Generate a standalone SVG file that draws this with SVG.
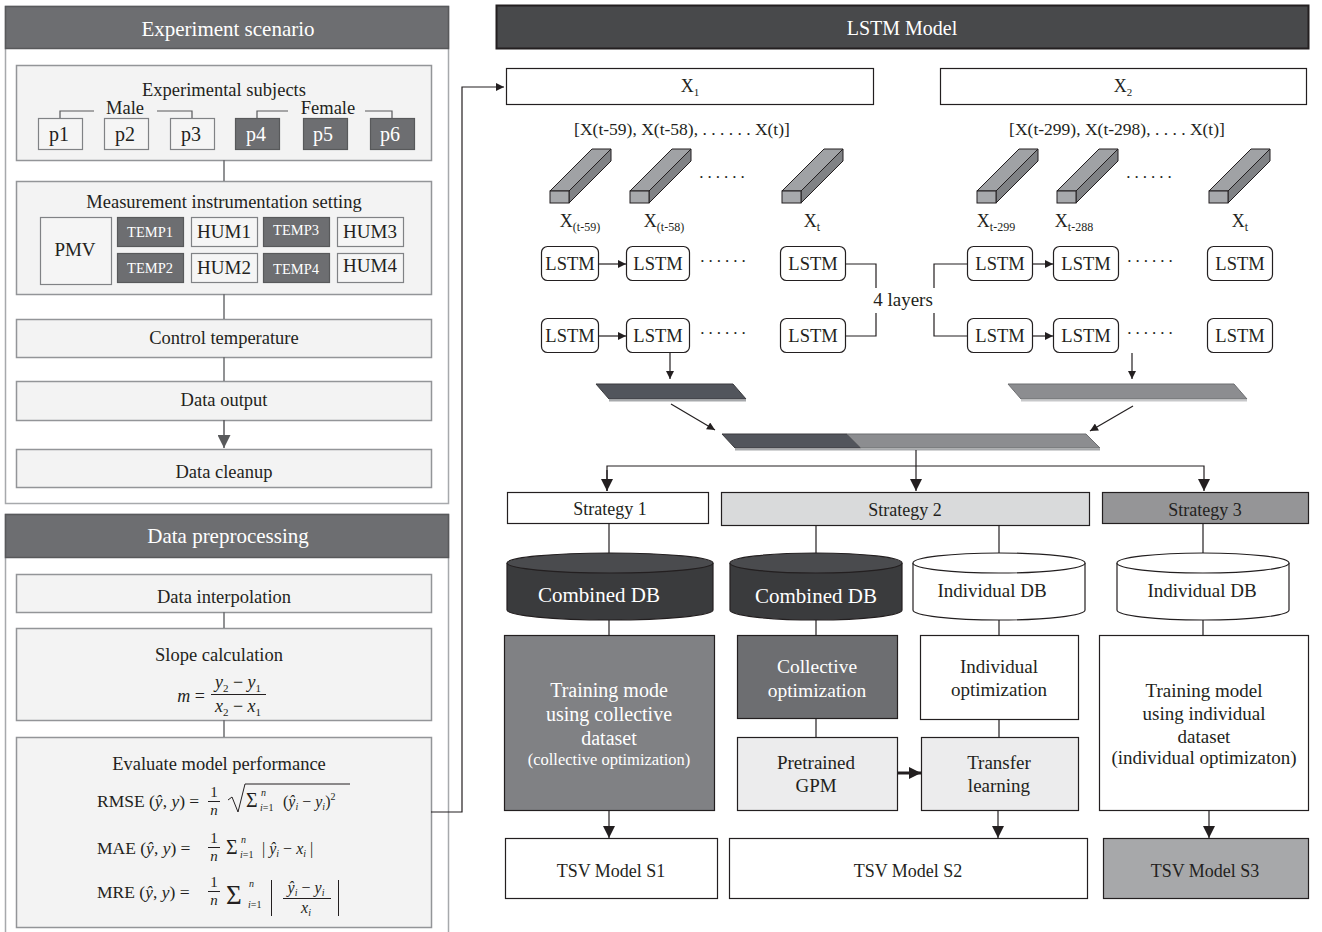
<svg xmlns="http://www.w3.org/2000/svg" width="1322" height="932" viewBox="0 0 1322 932">
<defs>
<style>
text{font-family:"Liberation Serif","Times New Roman",serif;fill:#231f20}
.hd{fill:#fff;font-size:21px;text-anchor:middle}
.t18{font-size:18.5px;text-anchor:middle}
.t17{font-size:18px;text-anchor:middle}
.t19{font-size:19px;text-anchor:middle}
.t16{font-size:17.5px;text-anchor:middle}
.dots{font-size:17px;text-anchor:middle;letter-spacing:4px}
.w{fill:#fff}
.it{font-style:italic}
.panel{fill:#fff;stroke:#a7a9ac;stroke-width:1.5}
.phd{fill:#6d6e71;stroke:#58595b;stroke-width:1.5}
.ibox{fill:#f3f3f3;stroke:#939598;stroke-width:1.5}
.pw{fill:#f5f5f5;stroke:#808285;stroke-width:1.2}
.pd{fill:#6d6e71;stroke:#58595b;stroke-width:1.2}
.gl{stroke:#6d6e71;stroke-width:1.5;fill:none}
.bl{stroke:#231f20;stroke-width:1.2;fill:none}
.box{fill:#fff;stroke:#231f20;stroke-width:1.2}
.lstm{fill:#fff;stroke:#231f20;stroke-width:1.2}
.bf{fill:#a7a9ac;stroke:#231f20;stroke-width:1}
.bt{fill:#a0a2a5;stroke:#231f20;stroke-width:1}
.br{fill:#808285;stroke:#231f20;stroke-width:1}
</style>
<marker id="ah" viewBox="0 0 10 10" refX="10" refY="5" markerWidth="9" markerHeight="8" markerUnits="userSpaceOnUse" orient="auto"><path d="M0,0 L10,5 L0,10 z" fill="#231f20"/></marker>
<marker id="ahL" viewBox="0 0 10 10" refX="10" refY="5" markerWidth="14" markerHeight="12" markerUnits="userSpaceOnUse" orient="auto"><path d="M0,0 L10,5 L0,10 z" fill="#231f20"/></marker>
<marker id="ahG" viewBox="0 0 10 10" refX="10" refY="5" markerWidth="14" markerHeight="13" markerUnits="userSpaceOnUse" orient="auto"><path d="M0,0 L10,5 L0,10 z" fill="#58595b"/></marker>
<marker id="ahT" viewBox="0 0 10 10" refX="10" refY="5" markerWidth="12" markerHeight="14" markerUnits="userSpaceOnUse" orient="auto"><path d="M0,0 L10,5 L0,10 z" fill="#231f20"/></marker>
</defs>

<!-- Experiment scenario panel -->
<g id="experiment-scenario">
<rect class="panel" x="5.5" y="6.5" width="443" height="497"/>
<rect class="phd" x="5.5" y="6.5" width="443" height="42"/>
<text class="hd" x="228" y="36">Experiment scenario</text>
</g>

<g id="experimental-subjects">
<rect class="ibox" x="16.5" y="65.5" width="415" height="95"/>
<text class="t18" x="224" y="96">Experimental subjects</text>
<text class="t18" x="125" y="114">Male</text>
<text class="t18" x="328" y="114">Female</text>
<path class="gl" d="M60,118 V111 H94 M157,111 H192 V118 M257,118 V111 H288 M365,111 H392 V118" style="stroke:#58595b;stroke-width:1.2"/>
<rect class="pw" x="38.5" y="118.5" width="44" height="31"/>
<text class="t19" x="59" y="141" style="font-size:20px">p1</text>
<rect class="pw" x="104.5" y="118.5" width="44" height="31"/>
<text class="t19" x="125" y="141" style="font-size:20px">p2</text>
<rect class="pw" x="170.5" y="118.5" width="44" height="31"/>
<text class="t19" x="191" y="141" style="font-size:20px">p3</text>
<rect class="pd" x="235.5" y="118.5" width="44" height="31"/>
<text class="t19 w" x="256" y="141" style="font-size:20px">p4</text>
<rect class="pd" x="303.5" y="118.5" width="44" height="31"/>
<text class="t19 w" x="323" y="141" style="font-size:20px">p5</text>
<rect class="pd" x="370.5" y="118.5" width="44" height="31"/>
<text class="t19 w" x="390" y="141" style="font-size:20px">p6</text>
</g>

<g id="measurement">
<rect class="ibox" x="16.5" y="181.5" width="415" height="113"/>
<text class="t18" x="224" y="208">Measurement instrumentation setting</text>
<rect class="pw" x="40.5" y="217.5" width="71" height="67"/>
<text class="t19" x="75" y="256">PMV</text>
<rect class="pd" x="117.5" y="217.5" width="66" height="29"/>
<text class="w" x="150" y="237" style="font-size:14.5px;text-anchor:middle">TEMP1</text>
<rect class="pw" x="191.5" y="217.5" width="66" height="29"/>
<text class="t19" x="224" y="238">HUM1</text>
<rect class="pd" x="263.5" y="217.5" width="66" height="29"/>
<text class="w" x="296" y="235" style="font-size:14.5px;text-anchor:middle">TEMP3</text>
<rect class="pw" x="337.5" y="217.5" width="66" height="29"/>
<text class="t19" x="370" y="238">HUM3</text>
<rect class="pd" x="117.5" y="253.5" width="66" height="29"/>
<text class="w" x="150" y="273" style="font-size:14.5px;text-anchor:middle">TEMP2</text>
<rect class="pw" x="191.5" y="253.5" width="66" height="29"/>
<text class="t19" x="224" y="274">HUM2</text>
<rect class="pd" x="263.5" y="253.5" width="66" height="29"/>
<text class="w" x="296" y="274" style="font-size:14.5px;text-anchor:middle">TEMP4</text>
<rect class="pw" x="337.5" y="253.5" width="66" height="29"/>
<text class="t19" x="370" y="272">HUM4</text>
</g>

<g id="control-temperature">
<rect class="ibox" x="16.5" y="319.5" width="415" height="38"/>
<text class="t18" x="224" y="344">Control temperature</text>
</g>
<g id="data-output">
<rect class="ibox" x="16.5" y="381.5" width="415" height="39"/>
<text class="t18" x="224" y="406">Data output</text>
</g>
<g id="data-cleanup">
<rect class="ibox" x="16.5" y="449.5" width="415" height="38"/>
<text class="t18" x="224" y="478">Data cleanup</text>
</g>

<!-- Data preprocessing panel -->
<g id="data-preprocessing">
<rect class="panel" x="5.5" y="514.5" width="443" height="420"/>
<rect class="phd" x="5.5" y="514.5" width="443" height="43"/>
<text class="hd" x="228" y="543">Data preprocessing</text>
</g>
<g id="data-interpolation">
<rect class="ibox" x="16.5" y="574.5" width="415" height="38"/>
<text class="t18" x="224" y="603">Data interpolation</text>
</g>
<g id="slope-calculation">
<rect class="ibox" x="16.5" y="628.5" width="415" height="92"/>
<text class="t18" x="219" y="661">Slope calculation</text>
<text x="205" y="702" style="font-size:18px;text-anchor:end"><tspan class="it">m</tspan> =</text>
<text x="238" y="688" style="font-size:18px;text-anchor:middle"><tspan class="it">y</tspan><tspan dy="4" style="font-size:11px">2</tspan><tspan dy="-4"> − </tspan><tspan class="it">y</tspan><tspan dy="4" style="font-size:11px">1</tspan></text>
<line x1="211" y1="694.5" x2="266" y2="694.5" stroke="#231f20" stroke-width="1"/>
<text x="238" y="712" style="font-size:18px;text-anchor:middle"><tspan class="it">x</tspan><tspan dy="4" style="font-size:11px">2</tspan><tspan dy="-4"> − </tspan><tspan class="it">x</tspan><tspan dy="4" style="font-size:11px">1</tspan></text>
</g>
<g id="evaluate-performance">
<rect class="ibox" x="16.5" y="737.5" width="415" height="190"/>
<text class="t18" x="219" y="770">Evaluate model performance</text>
<!-- RMSE -->
<text x="97" y="807" style="font-size:17.5px">RMSE (<tspan class="it">ŷ</tspan>, <tspan class="it">y</tspan>) =</text>
<text x="214" y="797" style="font-size:15px;text-anchor:middle">1</text>
<line x1="208" y1="801.5" x2="220" y2="801.5" stroke="#231f20" stroke-width="1"/>
<text x="214" y="815" style="font-size:15px;text-anchor:middle" class="it">n</text>
<path d="M228,800 L232,797 L238,812 L245,784 L350,784" fill="none" stroke="#231f20" stroke-width="1"/>
<text x="246" y="807" style="font-size:20px">Σ</text>
<text x="261" y="796" style="font-size:10px" class="it">n</text>
<text x="260" y="811" style="font-size:10px"><tspan class="it">i</tspan>=1</text>
<text x="283" y="807" style="font-size:16px">(<tspan class="it">ŷ</tspan><tspan class="it" dy="3" style="font-size:10px">i</tspan><tspan dy="-3"> − </tspan><tspan class="it">y</tspan><tspan class="it" dy="3" style="font-size:10px">i</tspan><tspan dy="-3">)</tspan><tspan dy="-7" style="font-size:10px">2</tspan></text>
<!-- MAE -->
<text x="97" y="854" style="font-size:17.5px">MAE (<tspan class="it">ŷ</tspan>, <tspan class="it">y</tspan>) =</text>
<text x="214" y="843" style="font-size:15px;text-anchor:middle">1</text>
<line x1="208" y1="847.5" x2="220" y2="847.5" stroke="#231f20" stroke-width="1"/>
<text x="214" y="861" style="font-size:15px;text-anchor:middle" class="it">n</text>
<text x="226" y="854" style="font-size:20px">Σ</text>
<text x="241" y="843" style="font-size:10px" class="it">n</text>
<text x="240" y="858" style="font-size:10px"><tspan class="it">i</tspan>=1</text>
<text x="262" y="854" style="font-size:16px">| <tspan class="it">ŷ</tspan><tspan class="it" dy="3" style="font-size:10px">i</tspan><tspan dy="-3"> − </tspan><tspan class="it">x</tspan><tspan class="it" dy="3" style="font-size:10px">i</tspan><tspan dy="-3"> |</tspan></text>
<!-- MRE -->
<text x="97" y="898" style="font-size:17.5px">MRE (<tspan class="it">ŷ</tspan>, <tspan class="it">y</tspan>) =</text>
<text x="214" y="887" style="font-size:15px;text-anchor:middle">1</text>
<line x1="208" y1="891.5" x2="220" y2="891.5" stroke="#231f20" stroke-width="1"/>
<text x="214" y="905" style="font-size:15px;text-anchor:middle" class="it">n</text>
<text x="226" y="904" style="font-size:27px">Σ</text>
<text x="249" y="887" style="font-size:10px" class="it">n</text>
<text x="248" y="908" style="font-size:10px"><tspan class="it">i</tspan>=1</text>
<line x1="271.5" y1="880" x2="271.5" y2="916" stroke="#231f20" stroke-width="1"/>
<text x="306" y="893" style="font-size:16px;text-anchor:middle"><tspan class="it">ŷ</tspan><tspan class="it" dy="3" style="font-size:10px">i</tspan><tspan dy="-3"> − </tspan><tspan class="it">y</tspan><tspan class="it" dy="3" style="font-size:10px">i</tspan></text>
<line x1="283" y1="898.5" x2="331" y2="898.5" stroke="#231f20" stroke-width="1"/>
<text x="306" y="913" style="font-size:16px;text-anchor:middle"><tspan class="it">x</tspan><tspan class="it" dy="3" style="font-size:10px">i</tspan></text>
<line x1="338.5" y1="880" x2="338.5" y2="916" stroke="#231f20" stroke-width="1"/>
</g>

<!-- LSTM Model -->
<g id="lstm-header">
<rect x="496.5" y="5.5" width="812" height="43" fill="#48494b" stroke="#231f20" stroke-width="2"/>
<text class="hd" x="902" y="35" style="font-size:20px">LSTM Model</text>
</g>
<g id="x1">
<rect class="box" x="506.5" y="68.5" width="367" height="36"/>
<text class="t17" x="690" y="92">X<tspan dy="4" style="font-size:11px">1</tspan></text>
<text class="t16" x="682" y="135">[X(t-59), X(t-58), . . . . . . X(t)]</text>
</g>
<g id="x2">
<rect class="box" x="940.5" y="68.5" width="366" height="36"/>
<text class="t17" x="1123" y="92">X<tspan dy="4" style="font-size:11px">2</tspan></text>
<text class="t16" x="1117" y="135">[X(t-299), X(t-298), . . . . X(t)]</text>
</g>

<g id="input-bars">
<g id="bar-l1"><polygon class="bt" points="550,191 569,191 611,149 592,149"/><polygon class="br" points="569,191 569,203 611,161 611,149"/><rect class="bf" x="550" y="191" width="19" height="12"/></g>
<g id="bar-l2"><polygon class="bt" points="630,191 649,191 691,149 672,149"/><polygon class="br" points="649,191 649,203 691,161 691,149"/><rect class="bf" x="630" y="191" width="19" height="12"/></g>
<g id="bar-l3"><polygon class="bt" points="782,191 801,191 843,149 824,149"/><polygon class="br" points="801,191 801,203 843,161 843,149"/><rect class="bf" x="782" y="191" width="19" height="12"/></g>
<g id="bar-r1"><polygon class="bt" points="977,191 996,191 1038,149 1019,149"/><polygon class="br" points="996,191 996,203 1038,161 1038,149"/><rect class="bf" x="977" y="191" width="19" height="12"/></g>
<g id="bar-r2"><polygon class="bt" points="1057,191 1076,191 1118,149 1099,149"/><polygon class="br" points="1076,191 1076,203 1118,161 1118,149"/><rect class="bf" x="1057" y="191" width="19" height="12"/></g>
<g id="bar-r3"><polygon class="bt" points="1209,191 1228,191 1270,149 1251,149"/><polygon class="br" points="1228,191 1228,203 1270,161 1270,149"/><rect class="bf" x="1209" y="191" width="19" height="12"/></g>
<text class="dots" x="724" y="178">......</text>
<text class="dots" x="1151" y="178">......</text>
<text class="t17" x="580" y="227">X<tspan dy="4" style="font-size:12px">(t-59)</tspan></text>
<text class="t17" x="664" y="227">X<tspan dy="4" style="font-size:12px">(t-58)</tspan></text>
<text class="t17" x="812" y="227">X<tspan dy="4" style="font-size:12px">t</tspan></text>
<text class="t17" x="996" y="227">X<tspan dy="4" style="font-size:12px">t-299</tspan></text>
<text class="t17" x="1074" y="227">X<tspan dy="4" style="font-size:12px">t-288</tspan></text>
<text class="t17" x="1240" y="227">X<tspan dy="4" style="font-size:12px">t</tspan></text>
</g>

<g id="lstm-left-1"><rect class="lstm" x="541.5" y="246.5" width="57" height="34" rx="6"/><text class="t18" x="570" y="270">LSTM</text></g>
<g id="lstm-left-2"><rect class="lstm" x="626.5" y="246.5" width="63" height="34" rx="6"/><text class="t18" x="658" y="270">LSTM</text></g>
<g id="lstm-left-3"><rect class="lstm" x="780.5" y="246.5" width="65" height="34" rx="6"/><text class="t18" x="813" y="270">LSTM</text></g>
<g id="lstm-left-4"><rect class="lstm" x="541.5" y="318.5" width="57" height="34" rx="6"/><text class="t18" x="570" y="342">LSTM</text></g>
<g id="lstm-left-5"><rect class="lstm" x="626.5" y="318.5" width="63" height="34" rx="6"/><text class="t18" x="658" y="342">LSTM</text></g>
<g id="lstm-left-6"><rect class="lstm" x="780.5" y="318.5" width="65" height="34" rx="6"/><text class="t18" x="813" y="342">LSTM</text></g>
<g id="lstm-right-1"><rect class="lstm" x="967.5" y="246.5" width="65" height="34" rx="6"/><text class="t18" x="1000" y="270">LSTM</text></g>
<g id="lstm-right-2"><rect class="lstm" x="1053.5" y="246.5" width="65" height="34" rx="6"/><text class="t18" x="1086" y="270">LSTM</text></g>
<g id="lstm-right-3"><rect class="lstm" x="1207.5" y="246.5" width="65" height="34" rx="6"/><text class="t18" x="1240" y="270">LSTM</text></g>
<g id="lstm-right-4"><rect class="lstm" x="967.5" y="318.5" width="65" height="34" rx="6"/><text class="t18" x="1000" y="342">LSTM</text></g>
<g id="lstm-right-5"><rect class="lstm" x="1053.5" y="318.5" width="65" height="34" rx="6"/><text class="t18" x="1086" y="342">LSTM</text></g>
<g id="lstm-right-6"><rect class="lstm" x="1207.5" y="318.5" width="65" height="34" rx="6"/><text class="t18" x="1240" y="342">LSTM</text></g>
<g id="lstm-dots">
<text class="dots" x="725" y="262">......</text>
<text class="dots" x="725" y="334">......</text>
<text class="dots" x="1152" y="262">......</text>
<text class="dots" x="1152" y="334">......</text>
</g>
<g id="layers-label"><text class="t19" x="903" y="306">4 layers</text></g>

<g id="feature-strips">
<polygon points="596,384 733,384 746,399 609,399" fill="#52555c" stroke="#3a3b3e" stroke-width="1"/>
<line x1="609" y1="400.5" x2="746" y2="400.5" stroke="#a7a9ac" stroke-width="2"/>
<polygon points="1008,384 1234,384 1247,399 1021,399" fill="#8c8d90" stroke="#6d6e71" stroke-width="1"/>
<line x1="1021" y1="400.5" x2="1247" y2="400.5" stroke="#c7c8ca" stroke-width="2"/>
<polygon points="722,434 847,434 861,448 735,448" fill="#52555c" stroke="#3a3b3e" stroke-width="1"/>
<polygon points="847,434 1086,434 1100,448 861,448" fill="#8c8d90" stroke="#6d6e71" stroke-width="1"/>
<line x1="735" y1="449.5" x2="1100" y2="449.5" stroke="#a7a9ac" stroke-width="2"/>
</g>

<g id="strategy-1"><rect class="box" x="507.5" y="492.5" width="201" height="31"/><text class="t17" x="610" y="515">Strategy 1</text></g>
<g id="strategy-2"><rect x="721.5" y="492.5" width="368" height="33" fill="#d9dadb" stroke="#231f20" stroke-width="1.2"/><text class="t17" x="905" y="516">Strategy 2</text></g>
<g id="strategy-3"><rect x="1102.5" y="492.5" width="206" height="31" fill="#959597" stroke="#231f20" stroke-width="1.2"/><text class="t17" x="1205" y="516">Strategy 3</text></g>

<g id="combined-db-1">
<path d="M507,563 V610 A103,10 0 0 0 713,610 V563" fill="#3a3b3d" stroke="#231f20" stroke-width="1.2"/>
<ellipse cx="610" cy="563" rx="103" ry="10" fill="#4a4b4e" stroke="#231f20" stroke-width="1.2"/>
<text class="w" x="599" y="602" style="font-size:21px;text-anchor:middle">Combined DB</text>
</g>
<g id="combined-db-2">
<path d="M730,563 V610 A86,10 0 0 0 902,610 V563" fill="#3a3b3d" stroke="#231f20" stroke-width="1.2"/>
<ellipse cx="816" cy="563" rx="86" ry="10" fill="#4a4b4e" stroke="#231f20" stroke-width="1.2"/>
<text class="w" x="816" y="603" style="font-size:21px;text-anchor:middle">Combined DB</text>
</g>
<g id="individual-db-1">
<path d="M913,563 V610 A86,10 0 0 0 1085,610 V563" fill="#fff" stroke="#231f20" stroke-width="1.2"/>
<ellipse cx="999" cy="563" rx="86" ry="10" fill="#fff" stroke="#231f20" stroke-width="1.2"/>
<text class="t19" x="992" y="597">Individual DB</text>
</g>
<g id="individual-db-2">
<path d="M1117,563 V610 A86,10 0 0 0 1289,610 V563" fill="#fff" stroke="#231f20" stroke-width="1.2"/>
<ellipse cx="1203" cy="563" rx="86" ry="10" fill="#fff" stroke="#231f20" stroke-width="1.2"/>
<text class="t19" x="1202" y="597">Individual DB</text>
</g>

<g id="training-collective">
<rect x="504.5" y="635.5" width="210" height="175" fill="#808184" stroke="#231f20" stroke-width="1.2"/>
<text class="w" x="609" y="697" style="font-size:20px;text-anchor:middle">Training mode</text>
<text class="w" x="609" y="721" style="font-size:20px;text-anchor:middle">using collective</text>
<text class="w" x="609" y="745" style="font-size:20px;text-anchor:middle">dataset</text>
<text class="w" x="609" y="765" style="font-size:16.5px;text-anchor:middle">(collective optimization)</text>
</g>
<g id="collective-optimization">
<rect x="737.5" y="635.5" width="160" height="83" fill="#6d6e71" stroke="#231f20" stroke-width="1.2"/>
<text class="w" x="817" y="673" style="font-size:19.5px;text-anchor:middle">Collective</text>
<text class="w" x="817" y="697" style="font-size:19.5px;text-anchor:middle">optimization</text>
</g>
<g id="individual-optimization">
<rect class="box" x="920.5" y="635.5" width="158" height="84"/>
<text class="t19" x="999" y="673">Individual</text>
<text class="t19" x="999" y="696">optimization</text>
</g>
<g id="pretrained-gpm">
<rect x="737.5" y="737.5" width="160" height="73" fill="#ececed" stroke="#231f20" stroke-width="1.2"/>
<text class="t19" x="816" y="769">Pretrained</text>
<text class="t19" x="816" y="792">GPM</text>
</g>
<g id="transfer-learning">
<rect x="921.5" y="737.5" width="157" height="73" fill="#ececed" stroke="#231f20" stroke-width="1.2"/>
<text class="t19" x="999" y="769">Transfer</text>
<text class="t19" x="999" y="792">learning</text>
</g>
<g id="training-individual">
<rect class="box" x="1099.5" y="635.5" width="209" height="175"/>
<text class="t19" x="1204" y="697">Training model</text>
<text class="t19" x="1204" y="720">using individual</text>
<text class="t19" x="1204" y="743">dataset</text>
<text class="t19" x="1204" y="764">(individual optimizaton)</text>
</g>

<g id="tsv-s1"><rect class="box" x="505.5" y="838.5" width="212" height="60"/><text class="t17" x="611" y="877">TSV Model S1</text></g>
<g id="tsv-s2"><rect class="box" x="729.5" y="838.5" width="358" height="60"/><text class="t17" x="908" y="877">TSV Model S2</text></g>
<g id="tsv-s3"><rect x="1103.5" y="838.5" width="205" height="60" fill="#a7a8aa" stroke="#231f20" stroke-width="1.2"/><text class="t17" x="1205" y="877">TSV Model S3</text></g>

<!-- connectors -->
<g id="connectors">
<line class="gl" x1="224" y1="160" x2="224" y2="181"/>
<line class="gl" x1="224" y1="294" x2="224" y2="319"/>
<line class="gl" x1="224" y1="357" x2="224" y2="381"/>
<line x1="224" y1="420" x2="224" y2="448" stroke="#58595b" stroke-width="1.5" marker-end="url(#ahG)"/>
<line class="gl" x1="224" y1="612" x2="224" y2="628"/>
<line class="gl" x1="224" y1="720" x2="224" y2="737"/>
<polyline class="bl" points="431,812 462,812 462,87 504,87" marker-end="url(#ah)"/>
<line class="bl" x1="598" y1="264" x2="626" y2="264" marker-end="url(#ah)"/>
<line class="bl" x1="598" y1="336" x2="626" y2="336" marker-end="url(#ah)"/>
<line class="bl" x1="1032" y1="264" x2="1053" y2="264" marker-end="url(#ah)"/>
<line class="bl" x1="1032" y1="336" x2="1053" y2="336" marker-end="url(#ah)"/>
<path class="bl" d="M845,264 H876 V288 M876,313 V336 H845"/>
<path class="bl" d="M967,264 H934 V288 M934,313 V336 H967"/>
<line class="bl" x1="670" y1="353" x2="670" y2="379" marker-end="url(#ah)"/>
<line class="bl" x1="1132" y1="353" x2="1132" y2="379" marker-end="url(#ah)"/>
<line class="bl" x1="671" y1="404" x2="715" y2="430" marker-end="url(#ah)"/>
<line class="bl" x1="1133" y1="406" x2="1090" y2="431" marker-end="url(#ah)"/>
<line class="bl" x1="916" y1="450" x2="916" y2="466"/>
<polyline class="bl" points="607,491 607,466 1204,466 1204,491" marker-end="url(#ahL)"/>
<line class="bl" x1="607" y1="470" x2="607" y2="491" marker-end="url(#ahL)"/>
<line class="bl" x1="916" y1="466" x2="916" y2="491" marker-end="url(#ahL)"/>
<line class="bl" x1="609" y1="523" x2="609" y2="553"/>
<line class="bl" x1="816" y1="525" x2="816" y2="553"/>
<line class="bl" x1="999" y1="525" x2="999" y2="553"/>
<line class="bl" x1="1203" y1="523" x2="1203" y2="553"/>
<line class="bl" x1="609" y1="620" x2="609" y2="635"/>
<line class="bl" x1="816" y1="620" x2="816" y2="635"/>
<line class="bl" x1="999" y1="620" x2="999" y2="635"/>
<line class="bl" x1="1203" y1="620" x2="1203" y2="635"/>
<line class="bl" x1="816" y1="718" x2="816" y2="737"/>
<line class="bl" x1="999" y1="719" x2="999" y2="737"/>
<line x1="897" y1="773" x2="921" y2="773" stroke="#231f20" stroke-width="3" marker-end="url(#ahT)"/>
<line class="bl" x1="609" y1="810" x2="609" y2="838" marker-end="url(#ahL)"/>
<line class="bl" x1="998" y1="810" x2="998" y2="838" marker-end="url(#ahL)"/>
<line class="bl" x1="1209" y1="810" x2="1209" y2="838" marker-end="url(#ahL)"/>
</g>
</svg>
